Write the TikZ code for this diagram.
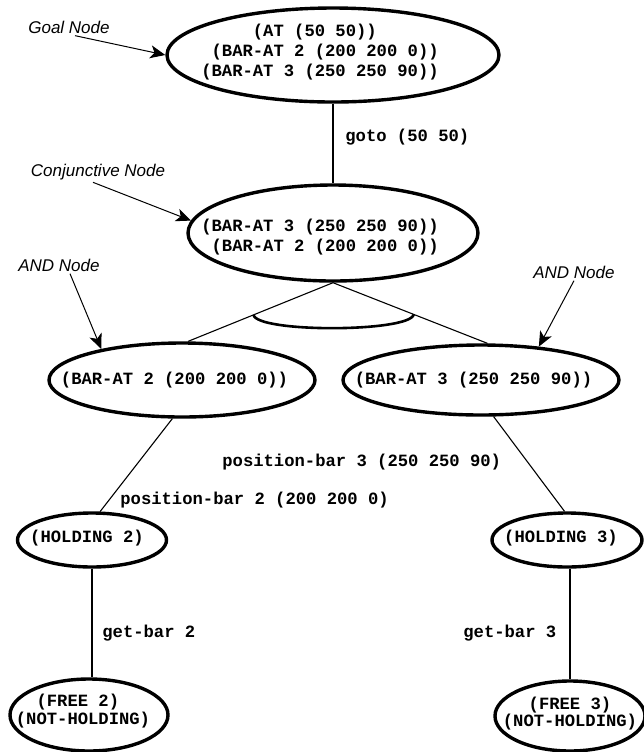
\documentclass[tikz,border=0pt]{standalone}
\usepackage{fontspec}
\setmainfont{Liberation Sans}
\setmonofont{Liberation Mono}
\usetikzlibrary{shapes.geometric,arrows.meta,calc}
\begin{document}
\begin{tikzpicture}[x=0.5pt,y=-0.5pt,
  oval/.style={ellipse,draw,line width=1.7pt,inner sep=0pt},
  mono/.style={font=\fontsize{8.6}{10.2}\selectfont\ttfamily\bfseries,align=center,inner sep=0pt},
  note/.style={font=\fontsize{8.5}{10}\selectfont\itshape,inner sep=1pt},
  conn/.style={line width=0.55pt},
  andarc/.style={line width=1.3pt},
  arr/.style={line width=0.5pt,-{Stealth[length=7.5pt,width=6.5pt,inset=2pt]}}]
\useasboundingbox (0,0) rectangle (644,752);

% main nodes
\node[oval,minimum width=166pt,minimum height=47pt,
  label={[mono,xshift=-6.5pt,yshift=1.5pt]center:{(AT (50 50))\hphantom{0}\\\hphantom{0}(BAR-AT 2 (200 200 0))\\(BAR-AT 3 (250 250 90))}}]
  (goal) at (333,55) {};
\node[oval,minimum width=145pt,minimum height=48pt,
  label={[mono,xshift=-6.5pt,yshift=-2pt]center:{(BAR-AT 3 (250 250 90))\\\hphantom{0}(BAR-AT 2 (200 200 0))}}]
  (conj) at (333,233) {};
\node[oval,minimum width=133pt,minimum height=37pt,
  label={[mono,xshift=-3.75pt]center:{(BAR-AT 2 (200 200 0))}}]
  (and2) at (182,380) {};
\node[oval,minimum width=138pt,minimum height=35pt,
  label={[mono,xshift=-3.75pt]center:{(BAR-AT 3 (250 250 90))}}]
  (and3) at (481,380) {};
\node[oval,minimum width=74.5pt,minimum height=27pt,
  label={[mono,xshift=-2.5pt,yshift=1pt]center:{(HOLDING 2)}}]
  (hold2) at (92,540) {};
\node[oval,minimum width=75pt,minimum height=27pt,
  label={[mono,xshift=-3pt,yshift=1pt]center:{(HOLDING 3)}}]
  (hold3) at (567,540) {};
\node[oval,minimum width=79pt,minimum height=36pt,
  label={[mono,font=\fontsize{8.6}{8.9}\selectfont\ttfamily\bfseries,xshift=-3pt,yshift=2pt]center:{(FREE 2)\hphantom{0}\\(NOT-HOLDING)}}]
  (free2) at (89,715) {};
\node[oval,minimum width=75pt,minimum height=35pt,
  label={[mono,font=\fontsize{8.6}{8.9}\selectfont\ttfamily\bfseries,yshift=1.25pt]center:{(FREE 3)\\(NOT-HOLDING)}}]
  (free3) at (570,716) {};

% annotations
\node[note] (goalN) at (69,27) {Goal Node};
\node[note] (conjN) at (98,172) {Conjunctive Node};
\node[note] (andL) at (59,265) {AND Node};
\node[note] (andR) at (574,272) {AND Node};

\draw[arr] ([xshift=3pt]goalN.south) -- (goal.west);
\draw[arr] ([xshift=-2.5pt]conjN.south) -- (conj.175);
\draw[arr] ([xshift=5.5pt]andL.south) -- (and2.159);
\draw[arr] (andR.south) -- (and3.30);

% edge labels
\node[mono,anchor=west] (lgoto) at (345,137) {goto (50 50)};
\node[mono,anchor=west] (lpb3) at (222,462) {position-bar 3 (250 250 90)};
\node[mono,anchor=west] (lpb2) at (120,500) {position-bar 2 (200 200 0)};
\node[mono,anchor=west] (lgb2) at (102,633) {get-bar 2};
\node[mono,anchor=west] (lgb3) at (463,633) {get-bar 3};

% connectors
\draw[conn] (goal.south) -- (conj.north);
\draw[conn] (conj.south) -- (and2.81);
\draw[conn] (conj.south) -- (and3.80);
\coordinate (aL) at ($(conj.south)!0.549!(and2.81)$);
\coordinate (aR) at ($(conj.south)!0.523!(and3.80)$);
\draw[andarc] (aL) .. controls +(4,18) and +(-4,18) .. (aR);
\draw[conn] (and2.256) -- (hold2.74);
\draw[conn] (and3.289) -- (hold3.95);
\draw[conn] (hold2.south) -- (hold2.south |- free2.north);
\draw[conn] (free3.north |- hold3.south) -- (free3.north);
\end{tikzpicture}
\end{document}
